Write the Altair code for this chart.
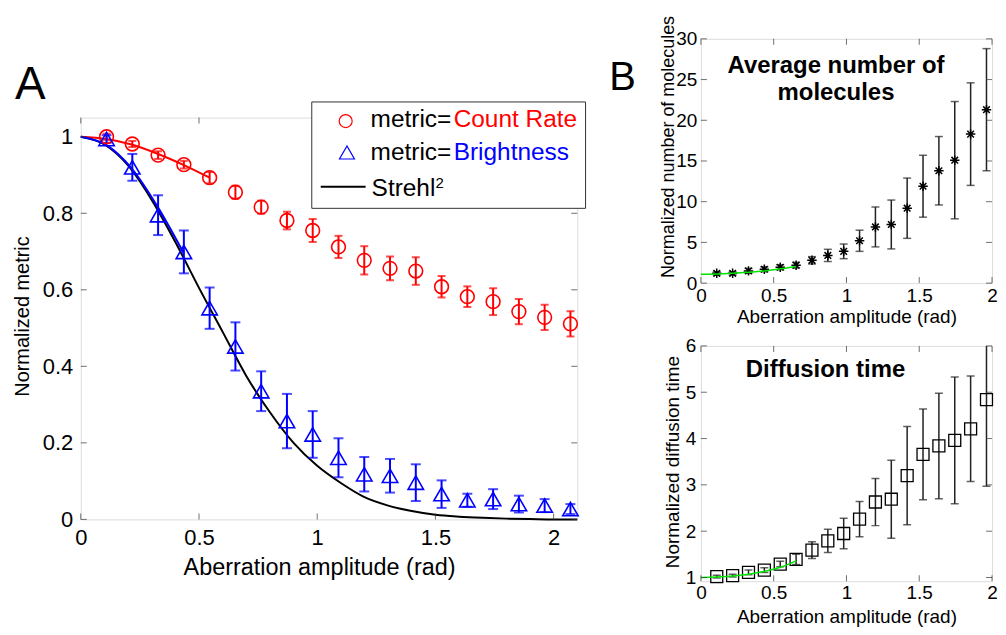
import altair as alt
import pandas as pd

FONT = "Liberation Sans"
RED = "#ff0000"
BLUE = "#0000ff"
GREEN = "#00e600"
FRAME = "#333333"

# ---------------- Panel A data ----------------
amp = [0.109, 0.218, 0.327, 0.436, 0.545, 0.654, 0.763, 0.872, 0.981, 1.090,
       1.199, 1.308, 1.417, 1.526, 1.635, 1.744, 1.853, 1.962, 2.071]
count_rate = [1.000, 0.981, 0.952, 0.927, 0.893, 0.855, 0.816, 0.781, 0.755, 0.712,
              0.677, 0.656, 0.649, 0.608, 0.582, 0.569, 0.543, 0.528, 0.511]
count_rate_err = [0.008, 0.008, 0.010, 0.010, 0.015, 0.017, 0.017, 0.023, 0.030, 0.029,
                  0.037, 0.031, 0.036, 0.028, 0.027, 0.035, 0.033, 0.033, 0.033]
brightness = [0.994, 0.920, 0.795, 0.699, 0.552, 0.452, 0.335, 0.257, 0.222, 0.161,
              0.118, 0.114, 0.096, 0.066, 0.050, 0.053, 0.040, 0.036, 0.027]
brightness_err = [0.010, 0.035, 0.052, 0.056, 0.054, 0.063, 0.052, 0.071, 0.061, 0.051,
                  0.045, 0.044, 0.048, 0.036, 0.017, 0.026, 0.022, 0.017, 0.013]
cr_fit_x = [0.0, 0.109, 0.218, 0.327, 0.436, 0.545]
cr_fit_y = [1.000, 0.994, 0.979, 0.955, 0.926, 0.893]
br_fit_x = [0.0, 0.109, 0.218, 0.327, 0.436]
br_fit_y = [1.000, 0.978, 0.915, 0.815, 0.695]
strehl_x = [0.0, 0.1, 0.2, 0.3, 0.4, 0.5, 0.6, 0.7, 0.8, 0.9, 1.0,
            1.1, 1.2, 1.3, 1.4, 1.5, 1.6, 1.7, 1.8, 1.9, 2.0, 2.1]
strehl_y = [1.000, 0.980, 0.925, 0.835, 0.725, 0.605, 0.490, 0.375, 0.280, 0.200, 0.140,
            0.095, 0.058, 0.036, 0.022, 0.012, 0.007, 0.004, 0.002, 0.001, 0.000, 0.000]
a_xticks = [0, 0.5, 1, 1.5, 2]
a_yticks = [0, 0.2, 0.4, 0.6, 0.8, 1]

# ---------------- Panel B data ----------------
amp_b = [0.109, 0.218, 0.327, 0.436, 0.545, 0.654, 0.763, 0.872, 0.981, 1.090,
         1.199, 1.308, 1.417, 1.526, 1.635, 1.744, 1.853, 1.962]
n_mol = [1.2, 1.2, 1.5, 1.7, 1.95, 2.2, 2.8, 3.4, 3.9, 5.2,
         6.9, 7.2, 9.2, 11.9, 13.8, 15.1, 18.3, 21.3]
n_mol_err = [0.2, 0.2, 0.3, 0.3, 0.3, 0.35, 0.45, 0.75, 0.9, 1.3,
             2.45, 3.0, 3.7, 3.8, 4.2, 7.2, 6.3, 7.5]
n_fit_x = [0.0, 0.109, 0.218, 0.327, 0.436, 0.545, 0.654]
n_fit_y = [1.1, 1.12, 1.2, 1.33, 1.5, 1.75, 2.05]
tau = [1.02, 1.04, 1.11, 1.16, 1.29, 1.39, 1.59, 1.79, 1.95, 2.26,
       2.63, 2.69, 3.20, 3.66, 3.84, 3.96, 4.21, 4.84]
tau_err = [0.03, 0.03, 0.05, 0.05, 0.06, 0.11, 0.18, 0.25, 0.33, 0.38,
           0.51, 0.84, 1.06, 0.98, 1.14, 1.37, 1.14, 1.87]
tau_fit_x = [0.0, 0.109, 0.218, 0.327, 0.436, 0.545, 0.654]
tau_fit_y = [1.0, 1.01, 1.03, 1.07, 1.13, 1.22, 1.36]
b_xticks = [0, 0.5, 1, 1.5, 2]
bn_yticks = [0, 5, 10, 15, 20, 25, 30]
bt_yticks = [1, 2, 3, 4, 5, 6]

ONE = pd.DataFrame({"d": [0]})


def err_df(xs, ys, es):
    return pd.DataFrame({"x": xs, "y": ys,
                         "lo": [v - e for v, e in zip(ys, es)],
                         "hi": [v + e for v, e in zip(ys, es)]})


def caps_df(xs, ys, es):
    return pd.DataFrame({"x": list(xs) + list(xs),
                         "y": [v - e for v, e in zip(ys, es)] + [v + e for v, e in zip(ys, es)]})


def make_axis(values, title, lab_fs, title_fs, pad, tx, ty, angle=None):
    kw = dict(values=values, format="~g", title=title, domain=False, ticks=False,
              tickSize=0, grid=False, labelFont=FONT, labelFontSize=lab_fs,
              labelColor="black", labelPadding=pad, labelFlush=False,
              labelOverlap=False, titleFont=FONT, titleFontSize=title_fs,
              titleFontWeight="normal", titleColor="black", titleX=tx, titleY=ty,
              titleBaseline="middle", titleAlign="center")
    if angle is not None:
        kw["titleAngle"] = angle
    return alt.Axis(**kw)


def frame_ticks(XF, YF, xticks, yticks, W, H, L=6):
    tx = pd.DataFrame({"x": xticks})
    ty = pd.DataFrame({"y": yticks})
    return [
        alt.Chart(tx).mark_tick(orient="vertical", size=L, thickness=1, color=FRAME)
        .encode(x=XF("x"), y=alt.value(H - L / 2)),
        alt.Chart(tx).mark_tick(orient="vertical", size=L, thickness=1, color=FRAME)
        .encode(x=XF("x"), y=alt.value(L / 2)),
        alt.Chart(ty).mark_tick(orient="horizontal", size=L, thickness=1, color=FRAME)
        .encode(y=YF("y"), x=alt.value(L / 2)),
        alt.Chart(ty).mark_tick(orient="horizontal", size=L, thickness=1, color=FRAME)
        .encode(y=YF("y"), x=alt.value(W - L / 2)),
    ]


def txt(s, x, y, size, color="black", weight="normal", align="left", baseline="middle"):
    return alt.Chart(ONE).mark_text(text=s, font=FONT, fontSize=size, color=color,
                                    fontWeight=weight, align=align, baseline=baseline
                                    ).encode(x=alt.value(x), y=alt.value(y))


# ================= Panel A =================
WA, HA = 498, 403
xsA = alt.Scale(domain=[0, 2.1], nice=False, zero=False)
ysA = alt.Scale(domain=[0, 1.05], nice=False, zero=False)
axA_x = make_axis(a_xticks, "Aberration amplitude (rad)", 22, 23.5, 8, 239, 48)
axA_y = make_axis(a_yticks, "Normalized metric", 22, 20, 8, -58.5, 199, angle=270)


def XA(f):
    return alt.X(f, type="quantitative", scale=xsA, axis=axA_x)


def YA(f):
    return alt.Y(f, type="quantitative", scale=ysA, axis=axA_y)


df_cr = err_df(amp, count_rate, count_rate_err)
df_br = err_df(amp, brightness, brightness_err)

layersA = [
    alt.Chart(pd.DataFrame({"x": strehl_x, "y": strehl_y}))
    .mark_line(color="black", strokeWidth=2, interpolate="monotone")
    .encode(x=XA("x"), y=YA("y")),
    alt.Chart(pd.DataFrame({"x": cr_fit_x, "y": cr_fit_y}))
    .mark_line(color=RED, strokeWidth=2, interpolate="monotone")
    .encode(x=XA("x"), y=YA("y")),
    alt.Chart(pd.DataFrame({"x": br_fit_x, "y": br_fit_y}))
    .mark_line(color=BLUE, strokeWidth=2, interpolate="monotone")
    .encode(x=XA("x"), y=YA("y")),
    alt.Chart(df_cr).mark_rule(color=RED, strokeWidth=2)
    .encode(x=XA("x"), y=YA("lo"), y2=alt.Y2("hi")),
    alt.Chart(caps_df(amp, count_rate, count_rate_err))
    .mark_tick(orient="horizontal", size=8, thickness=2, color=RED)
    .encode(x=XA("x"), y=YA("y")),
    alt.Chart(df_br).mark_rule(color=BLUE, strokeWidth=2)
    .encode(x=XA("x"), y=YA("lo"), y2=alt.Y2("hi")),
    alt.Chart(caps_df(amp, brightness, brightness_err))
    .mark_tick(orient="horizontal", size=10, thickness=2, color=BLUE)
    .encode(x=XA("x"), y=YA("y")),
    alt.Chart(df_cr).mark_point(shape="circle", size=190, filled=False, color=RED,
                                strokeWidth=1.6, opacity=1)
    .encode(x=XA("x"), y=YA("y")),
    alt.Chart(df_br).mark_point(shape="triangle-up", size=240, filled=False, color=BLUE,
                                strokeWidth=1.6, opacity=1)
    .encode(x=XA("x"), y=YA("y")),
]
layersA += frame_ticks(XA, YA, a_xticks, a_yticks, WA, HA)

# legend drawn by hand, overlapping the frame as in the original
layersA += [
    alt.Chart(ONE).mark_rect(fill="white", stroke=FRAME, strokeWidth=1)
    .encode(x=alt.value(231.7), x2=alt.value(506.3), y=alt.value(-15.7), y2=alt.value(91)),
    alt.Chart(ONE).mark_point(shape="circle", size=170, filled=False, color=RED,
                              strokeWidth=1.2, opacity=1)
    .encode(x=alt.value(265.7), y=alt.value(3.5)),
    alt.Chart(ONE).mark_point(shape="triangle-up", size=225, filled=False, color=BLUE,
                              strokeWidth=1.2, opacity=1)
    .encode(x=alt.value(267), y=alt.value(35)),
    alt.Chart(ONE).mark_rule(color="black", strokeWidth=2)
    .encode(x=alt.value(240.7), x2=alt.value(285.7), y=alt.value(69.3)),
    txt("metric=", 290.7, 2.5, 24.5),
    txt("Count Rate", 374, 2.5, 24.5, color=RED),
    txt("metric=", 290.7, 35.5, 24.5),
    txt("Brightness", 374, 35.5, 24.5, color=BLUE),
    txt("Strehl", 291.7, 71.5, 24.5),
    txt("2", 355.7, 59, 15, baseline="top"),
    txt("A", -66, -19, 46, baseline="alphabetic"),
    # white (invisible) marker fixing the top of panel A's bounds
    alt.Chart(ONE).mark_rule(color="white", strokeWidth=1)
    .encode(x=alt.value(0), x2=alt.value(1), y=alt.value(-60)),
]
panelA = alt.layer(*layersA).properties(width=WA, height=HA)

# empty view above panel A (pushes A down relative to panel B)
spacerA = (
    alt.Chart(ONE).mark_point(opacity=0)
    .encode(x=alt.value(0), y=alt.value(0))
    .properties(width=1, height=1, view=alt.ViewBackground(stroke="transparent"))
)

# ================= Panel B (top) =================
WB1, HB1 = 292, 245
xsB1 = alt.Scale(domain=[0, 2], nice=False, zero=False)
ysB1 = alt.Scale(domain=[0, 30], nice=False, zero=False)
axB1_x = make_axis(b_xticks, "Aberration amplitude (rad)", 19, 19, 3, WB1 / 2, 33.5)
axB1_y = make_axis(bn_yticks, "Normalized number of molecules", 19, 18, 4, -32, 108, angle=270)


def XB1(f):
    return alt.X(f, type="quantitative", scale=xsB1, axis=axB1_x)


def YB1(f):
    return alt.Y(f, type="quantitative", scale=ysB1, axis=axB1_y)


df_n = err_df(amp_b, n_mol, n_mol_err)
STAR = "M-1,0L1,0M0,-1L0,1M-0.7,-0.7L0.7,0.7M-0.7,0.7L0.7,-0.7"
layersB1 = [
    alt.Chart(df_n).mark_rule(color="#222222", strokeWidth=1.5)
    .encode(x=XB1("x"), y=YB1("lo"), y2=alt.Y2("hi")),
    alt.Chart(caps_df(amp_b, n_mol, n_mol_err))
    .mark_tick(orient="horizontal", size=8, thickness=1.5, color="#222222")
    .encode(x=XB1("x"), y=YB1("y")),
    alt.Chart(df_n).mark_point(shape=STAR, size=90, filled=False, color="black",
                               strokeWidth=1.5, opacity=1)
    .encode(x=XB1("x"), y=YB1("y")),
    alt.Chart(pd.DataFrame({"x": n_fit_x, "y": n_fit_y}))
    .mark_line(color=GREEN, strokeWidth=1.5, interpolate="monotone")
    .encode(x=XB1("x"), y=YB1("y")),
]
layersB1 += frame_ticks(XB1, YB1, b_xticks, bn_yticks, WB1, HB1)
layersB1 += [
    txt("Average number of", 135.5, 34.7, 24, weight="bold", align="center", baseline="alphabetic"),
    txt("molecules", 135.5, 61.3, 24, weight="bold", align="center", baseline="alphabetic"),
    txt("B", -92, 51, 40, baseline="alphabetic"),
]
panelB1 = alt.layer(*layersB1).properties(width=WB1, height=HB1)

# ================= Panel B (bottom) =================
WB2, HB2 = 292, 236
xsB2 = alt.Scale(domain=[0, 2], nice=False, zero=False)
ysB2 = alt.Scale(domain=[0.92, 6], nice=False, zero=False)
axB2_x = make_axis(b_xticks, "Aberration amplitude (rad)", 19, 19, 2, WB2 / 2, 35)
axB2_y = make_axis(bt_yticks, "Normalized diffusion time", 19, 19, 5, -28, 116, angle=270)


def XB2(f):
    return alt.X(f, type="quantitative", scale=xsB2, axis=axB2_x)


def YB2(f):
    return alt.Y(f, type="quantitative", scale=ysB2, axis=axB2_y)


df_t = err_df(amp_b, tau, tau_err)
layersB2 = [
    alt.Chart(df_t).mark_rule(color="#222222", strokeWidth=1.5, clip=True)
    .encode(x=XB2("x"), y=YB2("lo"), y2=alt.Y2("hi")),
    alt.Chart(caps_df(amp_b, tau, tau_err))
    .mark_tick(orient="horizontal", size=8, thickness=1.5, color="#222222", clip=True)
    .encode(x=XB2("x"), y=YB2("y")),
    alt.Chart(df_t).mark_point(shape="square", size=144, filled=False, color="black",
                               strokeWidth=1.3, opacity=1)
    .encode(x=XB2("x"), y=YB2("y")),
    alt.Chart(pd.DataFrame({"x": tau_fit_x, "y": tau_fit_y}))
    .mark_line(color=GREEN, strokeWidth=1.5, interpolate="monotone")
    .encode(x=XB2("x"), y=YB2("y")),
]
layersB2 += frame_ticks(XB2, YB2, b_xticks, bt_yticks, WB2, HB2)
layersB2 += [
    txt("Diffusion time", 125, 30.7, 24, weight="bold", align="center", baseline="alphabetic"),
]
panelB2 = alt.layer(*layersB2).properties(width=WB2, height=HB2)

chart = (
    alt.hconcat(
        alt.vconcat(spacerA, panelA, spacing=14),
        alt.vconcat(panelB1, panelB2, spacing=9),
        spacing=21,
    )
    .properties(padding={"left": 4, "top": 5, "right": 0, "bottom": 0})
    .configure_view(stroke=FRAME, strokeWidth=1)
    .configure(font=FONT)
)

chart.save("out.html", embed_options={"renderer": "svg", "actions": False})
